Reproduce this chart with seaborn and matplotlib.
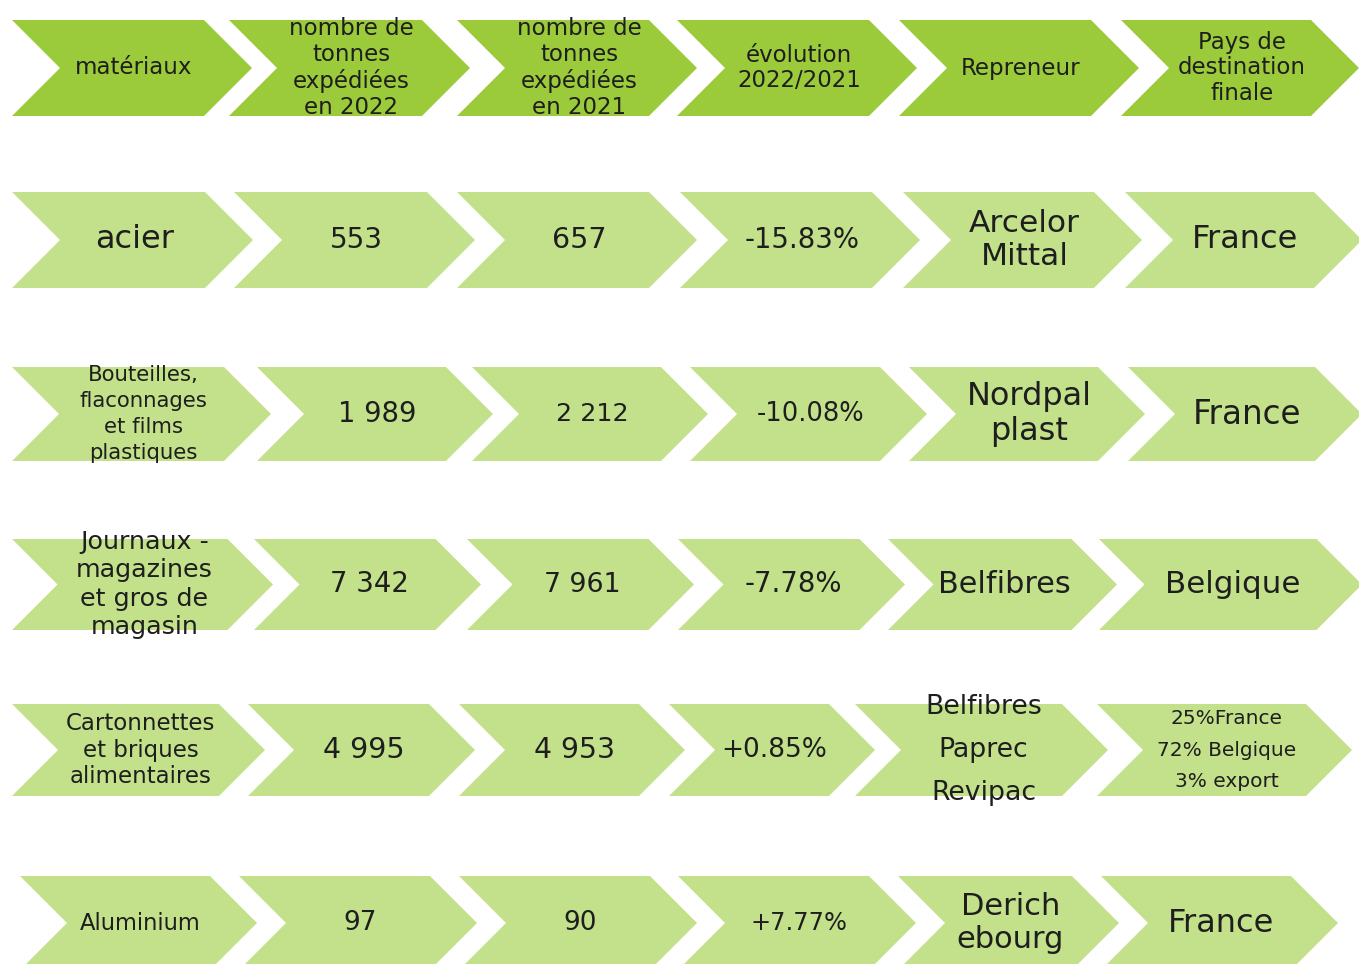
import matplotlib
matplotlib.use("Agg")
import matplotlib.pyplot as plt
from matplotlib.patches import Polygon
import seaborn as sns

# Table content
headers = ["matériaux", "nombre de\ntonnes\nexpédiées\nen 2022", "nombre de\ntonnes\nexpédiées\nen 2021",
           "évolution\n2022/2021", "Repreneur", "Pays de\ndestination\nfinale"]
materiaux = ["acier", "Bouteilles,\nflaconnages\net films\nplastiques", "Journaux -\nmagazines\net gros de\nmagasin",
             "Cartonnettes\net briques\nalimentaires", "Aluminium"]
tonnes_2022 = [553, 1989, 7342, 4995, 97]
tonnes_2021 = [657, 2212, 7961, 4953, 90]
evolution = [-15.83, -10.08, -7.78, 0.85, 7.77]
repreneur = ["Arcelor\nMittal", "Nordpal\nplast", "Belfibres", "Belfibres\nPaprec\nRevipac", "Derich\nebourg"]
destination = ["France", "France", "Belgique", "25%France\n72% Belgique\n3% export", "France"]


def fmt_t(v):
    return f"{v:,}".replace(",", " ")


def fmt_e(v):
    return f"{v:+.2f}%"


rows = [headers]
for i in range(len(materiaux)):
    rows.append([materiaux[i], fmt_t(tonnes_2022[i]), fmt_t(tonnes_2021[i]),
                 fmt_e(evolution[i]), repreneur[i], destination[i]])

# Layout (pixel space)
row_y = [(20, 116), (192, 288), (367, 461), (539, 630), (704, 796), (876, 970)]
starts = [[12, 229, 457, 677, 899, 1121],
          [12, 234, 457, 680, 903, 1125],
          [12, 257, 472, 690, 909, 1128],
          [12, 254, 467, 678, 888, 1099],
          [12, 248, 459, 669, 855, 1097],
          [20, 239, 459, 678, 898, 1101]]
points = [[252, 470, 697, 917, 1139, 1359],
          [253, 475, 697, 920, 1142, 1362],
          [271, 493, 708, 927, 1145, 1362],
          [273, 481, 694, 905, 1117, 1362],
          [265, 475, 685, 875, 1108, 1352],
          [257, 477, 697, 916, 1119, 1338]]
sizes = [[16.5, 16.5, 16.5, 16.5, 16.5, 16.5],
         [23, 20, 20.5, 19.8, 22.5, 23],
         [15.3, 19.8, 18.3, 18.5, 23, 23.5],
         [18.3, 19.8, 19.3, 19.8, 21.8, 22.3],
         [16.5, 20.5, 20.3, 19, 19.3, 14.5],
         [16.3, 19, 19, 17.4, 22, 23]]
spacing = [[1.15] * 6,
           [1.0, 1, 1, 1, 1.2, 1],
           [1.36, 1, 1, 1, 1.13, 1],
           [1.22, 1, 1, 1, 1, 1],
           [1.21, 1, 1, 1, 1.87, 1.86],
           [1.0, 1, 1, 1, 1.17, 1]]

header_color = "#9BCB3A"
row_color = "#C3E08A"
text_color = "#1E1E1E"

sns.set_theme(style="white")
plt.rcParams["font.family"] = ["DejaVu Sans"]

fig = plt.figure(figsize=(13.59, 9.64), dpi=100)
ax = fig.add_axes([0, 0, 1, 1])
ax.set_xlim(0, 1359)
ax.set_ylim(964, 0)
ax.axis("off")

for r, (y0, y1) in enumerate(row_y):
    h = (y1 - y0) / 2
    ym = (y0 + y1) / 2
    for c in range(6):
        x0, xp = starts[r][c], points[r][c]
        verts = [(x0, y0), (xp - h, y0), (xp, ym), (xp - h, y1), (x0, y1), (x0 + h, ym)]
        ax.add_patch(Polygon(verts, closed=True, facecolor=header_color if r == 0 else row_color,
                             edgecolor="none"))
        ax.text((x0 + xp) / 2 + 2, ym, rows[r][c], ha="center", va="center", ma="center",
                fontsize=sizes[r][c], linespacing=spacing[r][c], color=text_color)

fig.savefig("out.png", dpi=100)
